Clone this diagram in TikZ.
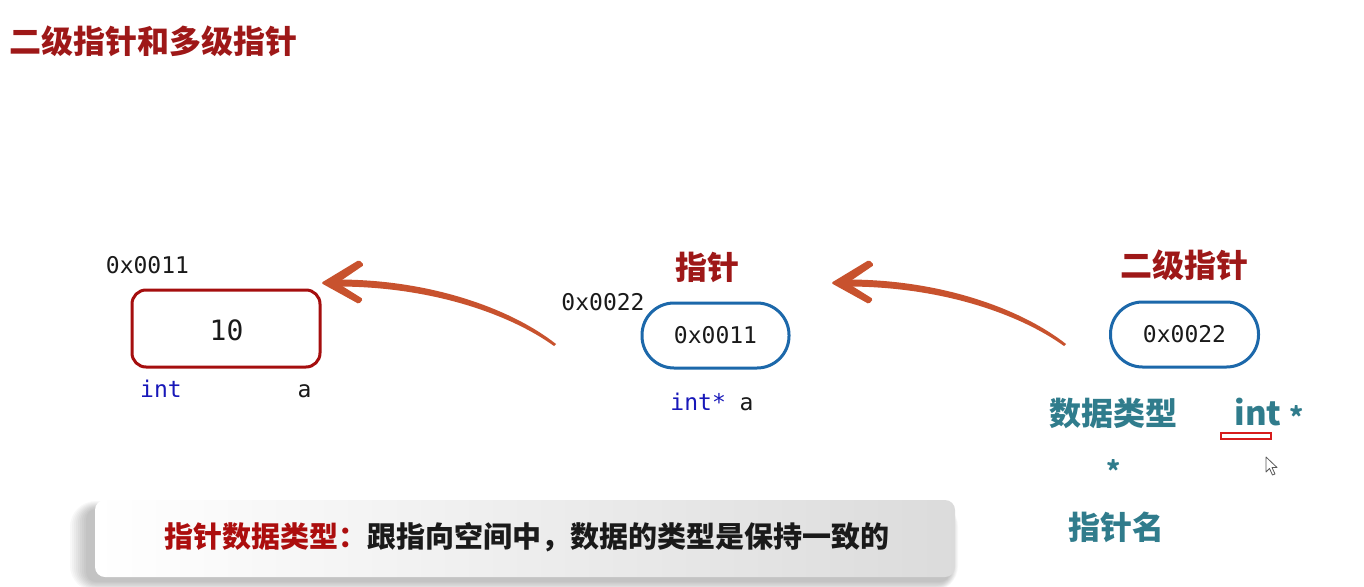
\documentclass[tikz,border=0pt]{standalone}
\usepackage{fontspec}
\newfontfamily\cjk{Noto Sans CJK SC}
\newfontfamily\mono{DejaVu Sans Mono}
\definecolor{titlered}{RGB}{158,24,24}
\definecolor{boxred}{RGB}{165,14,14}
\definecolor{ptrblue}{RGB}{28,104,170}
\definecolor{codeblue}{RGB}{24,24,185}
\definecolor{codeblack}{RGB}{26,26,26}
\definecolor{labelteal}{RGB}{48,124,140}
\definecolor{hlred}{RGB}{215,28,28}
\definecolor{arrowred}{RGB}{200,82,46}
\definecolor{bannerred}{RGB}{172,14,14}
\begin{document}
\begin{tikzpicture}[x=1pt,y=-1pt,
  every node/.style={inner sep=0pt,outer sep=0pt},
  headtext/.style={font=\cjk\bfseries\fontsize{32}{36}\selectfont,text=titlered},
  tealtext/.style={font=\cjk\bfseries\fontsize{32}{36}\selectfont,text=labelteal},
  monotext/.style={font=\mono\fontsize{23}{26}\selectfont,text=codeblack},
  valbox/.style={draw=boxred,line width=3pt,rounded corners=14pt,minimum width=188pt,minimum height=77pt},
  ptrbox/.style={draw=ptrblue,line width=3pt,rounded corners=32pt,minimum width=147pt,minimum height=65pt},
  brusharrow/.pic={
    \fill[arrowred] (233,61) .. controls (190,27) and (110,-3.5) .. (14,-3.5)
       -- (14,3.5) .. controls (110,3.5) and (188,32) .. (231,63) -- cycle;
    \fill[arrowred,rounded corners=1.5pt] (-2,0) -- (36,-23) -- (41,-18) -- (16,-1)
       -- (16,1) -- (40,16) -- (36,21) -- cycle;
  }]
\useasboundingbox (0,0) rectangle (1364,586);
\fill[white] (0,0) rectangle (1364,586);

% title
\node[headtext] (title) at (153.5,41) {二级指针和多级指针};

% value box
\node[monotext,anchor=base] (addr1) at (147.5,273) {0x0011};
\node[valbox] (val) at (226,328.5) {};
\node[monotext,font=\mono\fontsize{28}{32}\selectfont,anchor=base] (ten) at (226.5,340) {10};
\node[monotext,text=codeblue,anchor=base] (inttype) at (161,397) {int};
\node[monotext,anchor=base] (aname) at (304.5,397) {a};

% pointer
\node[headtext] (ptrlabel) at (707.5,267.5) {指针};
\node[monotext,anchor=base] (addr2) at (603,310) {0x0022};
\node[ptrbox] (ptr) at (715.5,335.5) {};
\node[monotext] (ptrval) at (ptr.center) {0x0011};
\node[monotext,anchor=base] (ptrdecl) at (712,410) {\textcolor{codeblue}{int*} a};

% double pointer
\node[headtext] (pp) at (1184,265.5) {二级指针};
\node[ptrbox,minimum width=148pt,minimum height=65pt] (pptr) at (1184.5,334.5) {};
\node[monotext] (pptrval) at (pptr.center) {0x0022};

% labels
\node[tealtext] (dtype) at (1113.5,413) {数据类型};
\node[tealtext,font=\cjk\bfseries\fontsize{33}{36}\selectfont,anchor=base] (tint) at (1258,425) {int};
\node[tealtext,font=\cjk\bfseries\fontsize{27}{30}\selectfont] (tstar) at (1297,416.5) {*};
\node[draw=hlred,line width=2.2pt,minimum width=50pt,minimum height=6pt] (hl) at (1246,436) {};
\node[tealtext,font=\cjk\bfseries\fontsize{27}{30}\selectfont] (star2) at (1113.5,470) {*};
\node[tealtext] (pname) at (1116.5,527) {指针名};

% mouse cursor
\draw[black!65,fill=white,line width=0.8pt,line join=round]
  (1266,457) -- (1266,472) -- (1269.5,468.5) -- (1272.5,475) -- (1275,474) -- (1272,467.5) -- (1277,467.5) -- cycle;

% arrows
\coordinate (tip1) at ([shift={(3,-7)}]val.north east);
\coordinate (tip2) at ([shift={(44,-20)}]ptr.north east);
\pic at (tip1) {brusharrow};
\pic at (tip2) {brusharrow};

% banner with soft shadow
\foreach \r in {16,14,...,0}{
  \fill[black,opacity=0.026,rounded corners={10pt+\r pt}] (86-\r,509-0.5*\r) rectangle (950+0.5*\r,582+0.6*\r);
}
\node[left color=white,right color=black!14,rounded corners=10pt,minimum width=860pt,minimum height=77pt] (banner) at (525,538.5) {};
\node[font=\cjk\bfseries\fontsize{29}{32}\selectfont,text=codeblack] (bannertext) at (527,537)
  {\textcolor{bannerred}{指针数据类型：}跟指向空间中，数据的类型是保持一致的};
\end{tikzpicture}
\end{document}
